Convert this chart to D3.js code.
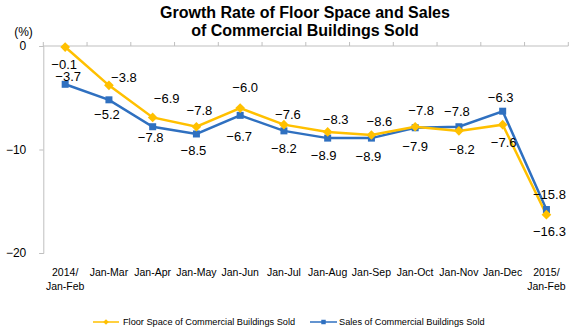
<!DOCTYPE html>
<html>
<head>
<meta charset="utf-8">
<script src="https://cdn.jsdelivr.net/npm/d3@7"></script>
<style>
  html, body { margin: 0; padding: 0; background: #fff; }
  svg { display: block; font-family: "Liberation Sans", Arial, sans-serif; }
</style>
</head>
<body>
<svg id="chart" width="577" height="332"></svg>
<script>
// ---- data ----
const categories = ["2014/\nJan-Feb", "Jan-Mar", "Jan-Apr", "Jan-May", "Jan-Jun", "Jan-Jul",
                    "Jan-Aug", "Jan-Sep", "Jan-Oct", "Jan-Nov", "Jan-Dec", "2015/\nJan-Feb"];
const floorSpace = [-0.1, -3.8, -6.9, -7.8, -6.0, -7.6, -8.3, -8.6, -7.8, -8.2, -7.6, -16.3];
const sales      = [-3.7, -5.2, -7.8, -8.5, -6.7, -8.2, -8.9, -8.9, -7.9, -7.8, -6.3, -15.8];
const yTicks = [0, -10, -20];
const seriesNames = ["Floor Space of Commercial Buildings Sold", "Sales of Commercial Buildings  Sold"];
const titleLines = ["Growth Rate of Floor Space and Sales", "of Commercial Buildings Sold"];

// ---- layout (label offsets relative to each point, px) ----
const floorLabelOffsets = [[-1,17],[15,-8],[14,-19],[3,-16],[5,-21],[4,-10],[8,-12],[8,-14],[6,-16],[3,19],[1,18],[3,17]];
const salesLabelOffsets = [[3,-8],[-2,15],[-2,11],[-3,17],[-1,21],[0,18],[-4,17],[-3,18],[0,19],[-2,-15],[-2,-14],[3,-15]];

const YELLOW = "#FFC000";
const BLUE = "#2F70C0";
const AXIS = "#BFBFBF";

const svg = d3.select("#chart");
const mLeft = 43.3, mRight = 568.3, mTop = 46, mBottom = 253;

const x = d3.scaleBand().domain(categories).range([mLeft, mRight]);
const y = d3.scaleLinear().domain([0, -20]).range([mTop, mBottom]);
const cx = c => x(c) + x.bandwidth() / 2;

// title
svg.append("g").selectAll("text").data(titleLines).join("text")
  .attr("x", 305).attr("y", (d, i) => 12.5 + i * 17.5)
  .attr("text-anchor", "middle").attr("dominant-baseline", "central")
  .attr("font-size", 16).attr("font-weight", "bold").attr("fill", "#000")
  .text(d => d);

// unit
svg.append("text").attr("x", 23.5).attr("y", 32)
  .attr("text-anchor", "middle").attr("dominant-baseline", "central")
  .attr("font-size", 12).text("(%)");

// y axis
const yAxis = d3.axisLeft(y).tickValues(yTicks).tickSize(4).tickPadding(4).tickFormat(d3.format("d"));
const gy = svg.append("g").attr("transform", `translate(${mLeft},0)`).call(yAxis);
gy.select(".domain").attr("stroke", AXIS);
gy.selectAll(".tick line").attr("stroke", AXIS);
gy.selectAll(".tick text").attr("font-size", 12).attr("fill", "#000")
  .attr("font-family", "Liberation Sans, Arial, sans-serif").attr("x", -17);

// top x axis with tick marks at band boundaries
svg.append("line").attr("x1", mLeft).attr("x2", mRight).attr("y1", mTop).attr("y2", mTop).attr("stroke", AXIS);
const boundaries = categories.map(c => x(c)).concat([mRight]);
svg.append("g").selectAll("line").data(boundaries).join("line")
  .attr("x1", d => d).attr("x2", d => d).attr("y1", mTop - 4).attr("y2", mTop)
  .attr("stroke", AXIS);

// x labels
const xl = svg.append("g").selectAll("text").data(categories).join("text")
  .attr("x", d => cx(d)).attr("text-anchor", "middle")
  .attr("font-size", 10.5).attr("fill", "#000");
xl.each(function(d) {
  const lines = d.split("\n");
  d3.select(this).selectAll("tspan").data(lines).join("tspan")
    .attr("x", cx(d)).attr("y", (l, i) => 276 + i * 14).text(l => l);
});

// lines
const line = d3.line().x((d, i) => cx(categories[i])).y(d => y(d));
svg.append("path").datum(sales).attr("d", line)
  .attr("fill", "none").attr("stroke", BLUE).attr("stroke-width", 2.5);
svg.append("path").datum(floorSpace).attr("d", line)
  .attr("fill", "none").attr("stroke", YELLOW).attr("stroke-width", 2.5);

// markers
svg.append("g").selectAll("rect").data(sales).join("rect")
  .attr("x", (d, i) => cx(categories[i]) - 3.5).attr("y", d => y(d) - 3.5)
  .attr("width", 7).attr("height", 7).attr("fill", BLUE);
const diamond = d3.symbol().type(d3.symbolDiamond2).size(60);
svg.append("g").selectAll("path").data(floorSpace).join("path")
  .attr("transform", (d, i) => `translate(${cx(categories[i])},${y(d)})`)
  .attr("d", diamond).attr("fill", YELLOW);

// data labels
function labels(values, offsets) {
  svg.append("g").selectAll("text").data(values).join("text")
    .attr("x", (d, i) => cx(categories[i]) + offsets[i][0])
    .attr("y", (d, i) => y(d) + offsets[i][1])
    .attr("text-anchor", "middle").attr("dominant-baseline", "central")
    .attr("font-size", 13).attr("fill", "#000")
    .text(d => d3.format(".1f")(d));
}
labels(floorSpace, floorLabelOffsets);
labels(sales, salesLabelOffsets);

// legend
const legendItems = [
  { name: seriesNames[0], color: YELLOW, x0: 93, x1: 119, tx: 123, marker: "diamond" },
  { name: seriesNames[1], color: BLUE, x0: 310, x1: 337, tx: 339, marker: "square" }
];
const ly = 322;
const lg = svg.append("g").selectAll("g").data(legendItems).join("g");
lg.append("line").attr("x1", d => d.x0).attr("x2", d => d.x1).attr("y1", ly).attr("y2", ly)
  .attr("stroke", d => d.color).attr("stroke-width", 1.5);
lg.append("path")
  .attr("transform", d => `translate(${(d.x0 + d.x1) / 2},${ly})`)
  .attr("d", d => d.marker === "diamond" ? d3.symbol().type(d3.symbolDiamond2).size(20)() : d3.symbol().type(d3.symbolSquare).size(20)())
  .attr("fill", d => d.color);
lg.append("text").attr("x", d => d.tx).attr("y", ly).attr("dominant-baseline", "central")
  .attr("font-size", 9.2).attr("fill", "#000").text(d => d.name);
</script>
</body>
</html>
